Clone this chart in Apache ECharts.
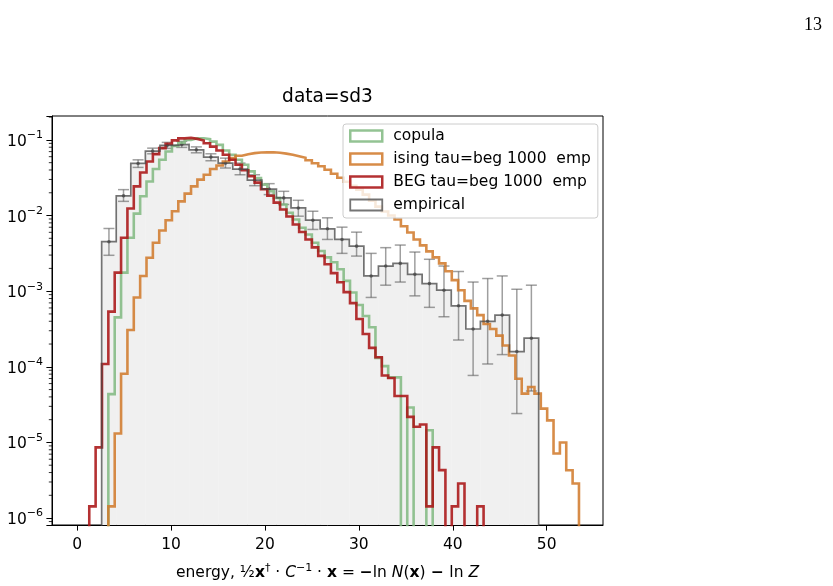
<!DOCTYPE html>
<html>
<head>
<meta charset="utf-8">
<script src="https://cdn.jsdelivr.net/npm/echarts@6/dist/echarts.min.js"></script>
<style>
  html, body { margin: 0; padding: 0; background: #fff; }
  #chart { width: 833px; height: 586px; }
</style>
</head>
<body>
<div id="chart"></div>
<script>
// axis ranges (as in the reference)
const X_MIN = -2.68, X_MAX = 56.0;
const Y_MIN = 8.1e-7, Y_MAX = 0.207;
const FLOOR = 1e-12;   // empty bins: drawn below the axis and clipped

// model histograms share one regular binning
const modelBinStart = 1.289;
const modelBinWidth = 0.6773;
// empirical histogram: 30 bins
const empBinStart = 2.609;
const empBinWidth = 1.5513;

// BEG tau=beg 1000 emp, bins 0..61
const begFirstBin = 0;
const begValues = [
  1.43e-6, 8.6e-6, 1.09e-4, 5.37e-4, 1.76e-3, 5.09e-3, 1.24e-2, 2.43e-2, 3.71e-2, 5.18e-2,
  6.48e-2, 7.78e-2, 8.86e-2, 9.85e-2, 0.1047, 0.1062, 0.1031, 0.0979, 0.0905, 0.0816,
  0.0723, 0.0635, 0.0546, 0.0469, 0.0397, 0.0331, 0.0272, 0.0223, 0.0183, 0.0148,
  0.0120, 9.70e-3, 7.62e-3, 6.07e-3, 4.83e-3, 3.79e-3, 2.93e-3, 2.27e-3, 1.73e-3, 1.31e-3,
  9.70e-4, 6.95e-4, 4.28e-4, 2.72e-4, 1.78e-4, 1.34e-4, 7.69e-5, 7.10e-5, 4.11e-5, 4.11e-5,
  2.18e-5, 1.61e-5, 1.73e-5, 1.43e-6, 8.6e-6, 4.3e-6, 0, 1.43e-6, 2.86e-6, 0,
  0, 1.43e-6
];

// copula, bins 3..53
const copulaFirstBin = 3;
const copulaValues = [
  4.35e-5, 4.51e-4, 1.76e-3, 5.09e-3, 1.06e-2, 1.80e-2, 2.82e-2, 4.12e-2, 5.46e-2, 7.02e-2,
  8.34e-2, 9.21e-2, 0.100, 0.1053, 0.1053, 0.1021, 0.0950, 0.0859, 0.0723, 0.0635,
  0.0546, 0.0469, 0.0383, 0.0313, 0.0256, 0.0209, 0.0171, 0.0140, 0.0109, 8.86e-3,
  6.89e-3, 5.62e-3, 4.37e-3, 3.39e-3, 2.80e-3, 2.41e-3, 1.95e-3, 1.37e-3, 9.61e-4, 6.55e-4,
  4.69e-4, 3.33e-4, 1.31e-4, 1.02e-4, 7.25e-5, 7.25e-5, 0, 2.9e-5, 0, 0,
  1.45e-5
];

// ising tau=beg 1000 emp, bins 3..76
const isingFirstBin = 3;
const isingValues = [
  1.43e-6, 1.31e-5, 8.09e-5, 3.07e-4, 8.26e-4, 1.59e-3, 2.77e-3, 4.37e-3, 6.35e-3, 8.67e-3,
  1.14e-2, 1.54e-2, 1.95e-2, 2.43e-2, 2.98e-2, 3.46e-2, 4.12e-2, 4.59e-2, 5.18e-2, 5.74e-2,
  6.16e-2, 6.48e-2, 6.68e-2, 6.81e-2, 6.85e-2, 6.85e-2, 6.75e-2, 6.58e-2, 6.35e-2, 6.07e-2,
  5.80e-2, 5.37e-2, 4.91e-2, 4.48e-2, 4.03e-2, 3.57e-2, 3.16e-2, 2.80e-2, 2.48e-2, 2.20e-2,
  1.89e-2, 1.57e-2, 1.31e-2, 1.13e-2, 1.00e-2, 8.86e-3, 7.23e-3, 5.97e-3, 4.83e-3, 4.03e-3,
  3.36e-3, 2.80e-3, 2.33e-3, 1.83e-3, 1.40e-3, 1.03e-3, 7.45e-4, 5.92e-4, 4.83e-4, 3.68e-4,
  3.16e-4, 2.58e-4, 1.91e-4, 1.41e-4, 6.95e-5, 4.42e-5, 5.41e-5, 4.42e-5, 2.80e-5, 1.96e-5,
  7.15e-6, 1.0e-5, 4.29e-6, 2.86e-6
];

// empirical density and its error bar ends
const empValues = [
  4.51e-3, 1.82e-2, 4.88e-2, 7.10e-2, 8.47e-2, 8.73e-2, 7.39e-2, 5.92e-2, 4.93e-2, 4.11e-2,
  2.93e-2, 2.24e-2, 1.71e-2, 1.26e-2, 8.67e-3, 6.68e-3, 4.83e-3, 3.94e-3, 1.59e-3, 2.15e-3,
  2.33e-3, 1.67e-3, 1.26e-3, 1.03e-3, 6.41e-4, 3.16e-4, 3.99e-4, 4.83e-4, 1.59e-4, 2.39e-4
];
const empLow = [
  2.98e-3, 1.54e-2, 4.33e-2, 6.55e-2, 7.73e-2, 7.96e-2, 6.75e-2, 5.30e-2, 4.25e-2, 3.46e-2,
  2.48e-2, 1.89e-2, 1.40e-2, 9.80e-3, 6.55e-3, 4.83e-3, 3.16e-3, 2.91e-3, 8.26e-4, 1.20e-3,
  1.32e-3, 8.67e-4, 6.11e-4, 4.59e-4, 2.26e-4, 7.69e-5, 1.09e-4, 1.45e-4, 2.41e-5, 4.79e-5
];
const empHigh = [
  6.74e-3, 2.20e-2, 5.45e-2, 7.78e-2, 9.27e-2, 9.56e-2, 8.09e-2, 6.55e-2, 5.74e-2, 4.93e-2,
  3.46e-2, 2.64e-2, 2.09e-2, 1.59e-2, 1.14e-2, 9.33e-3, 7.02e-3, 6.03e-3, 3.16e-3, 3.76e-3,
  4.07e-3, 3.29e-3, 2.64e-3, 2.15e-3, 1.82e-3, 1.32e-3, 1.47e-3, 1.59e-3, 1.06e-3, 1.20e-3
];

const C_GREEN = 'rgba(128,185,128,0.85)';
const C_ORANGE = 'rgba(208,120,40,0.85)';
const C_RED = 'rgba(170,20,22,0.88)';
const C_GREY = 'rgba(70,70,70,0.75)';
const FONT = 'DejaVu Sans';

function modelEdge(k) { return modelBinStart + k * modelBinWidth; }
function empEdge(k) { return empBinStart + k * empBinWidth; }

// outline of a step histogram, closed down to the axis at both ends
function stepPoints(edge, first, vals) {
  const pts = [[edge(first), FLOOR]];
  vals.forEach(function (v, i) {
    pts.push([edge(first + i), v > 0 ? v : FLOOR]);
  });
  pts.push([edge(first + vals.length), FLOOR]);
  return pts;
}

function stepSeries(name, color, width, pts) {
  return {
    name: name, type: 'line', step: 'end', data: pts,
    showSymbol: false, symbol: 'none', clip: true,
    lineStyle: { color: color, width: width, join: 'miter', cap: 'butt' },
    itemStyle: { color: color },
    emphasis: { disabled: true }
  };
}

// minor ticks of the log axis: 2..9 x 10^n
const minorTicks = [];
for (let n = -7; n <= -1; n++) {
  for (let m = 2; m <= 9; m++) {
    const v = m * Math.pow(10, n);
    if (v > Y_MIN && v < Y_MAX) minorTicks.push([X_MIN, v]);
  }
}

const fillData = empValues.map(function (v, j) { return [empEdge(j), empEdge(j + 1), v]; });
const errData = empValues.map(function (v, j) {
  return [empEdge(j) + empBinWidth / 2, empLow[j], empHigh[j], v];
});

const chart = echarts.init(document.getElementById('chart'), null, { renderer: 'canvas' });

chart.setOption({
  animation: false,
  backgroundColor: '#fff',
  grid: {
    left: 52, top: 116, width: 551, height: 411,
    show: true, borderColor: '#000', borderWidth: 1, backgroundColor: 'transparent'
  },
  graphic: [
    {
      type: 'text', x: 327.5, y: 97, silent: true,
      style: { text: 'data=sd3', font: '18.6px "DejaVu Sans"', fill: '#000', textAlign: 'center', textVerticalAlign: 'middle' }
    },
    {
      type: 'text', x: 822, y: 25, silent: true,
      style: { text: '13', font: '18px "Liberation Serif"', fill: '#000', textAlign: 'right', textVerticalAlign: 'middle' }
    }
  ],
  legend: {
    orient: 'vertical', left: 343, top: 124,
    itemWidth: 32, itemHeight: 11, itemGap: 7,
    padding: [4, 7, 5, 6],
    backgroundColor: 'rgba(255,255,255,0.8)',
    borderColor: '#cccccc', borderWidth: 1, borderRadius: 3,
    selectedMode: false,
    textStyle: { fontFamily: FONT, fontSize: 15.5, color: '#000', lineHeight: 16, padding: [0, 0, 0, 6] },
    data: [
      { name: 'copula', icon: 'rect', itemStyle: { color: 'rgba(255,255,255,0)', borderColor: C_GREEN, borderWidth: 2.5 } },
      { name: 'ising tau=beg 1000  emp', icon: 'rect', itemStyle: { color: 'rgba(255,255,255,0)', borderColor: C_ORANGE, borderWidth: 2.5 } },
      { name: 'BEG tau=beg 1000  emp', icon: 'rect', itemStyle: { color: 'rgba(255,255,255,0)', borderColor: C_RED, borderWidth: 2.5 } },
      { name: 'empirical', icon: 'rect', itemStyle: { color: 'rgba(255,255,255,0)', borderColor: C_GREY, borderWidth: 1.8 } }
    ]
  },
  xAxis: {
    type: 'value', min: X_MIN, max: X_MAX,
    axisLine: { onZero: false, lineStyle: { color: '#000', width: 1 } },
    axisTick: { length: 5.6, lineStyle: { color: '#000', width: 1 } },
    axisLabel: {
      color: '#000', fontFamily: FONT, fontSize: 15.5, margin: 12,
      showMinLabel: false, showMaxLabel: false,
      formatter: function (v) { return Math.abs(v / 10 - Math.round(v / 10)) < 1e-9 ? String(Math.round(v)) : ''; }
    },
    splitLine: { show: false },
    name: '{n|energy, ½}{b|x}{sup|†}{n| · }{i|C}{sup|−1}{n| · }{b|x}{n| = }{b|−}{n|ln }{i|N}{n|(}{b|x}{n|)}{b| − }{n|ln }{i|Z}',
    nameLocation: 'middle', nameGap: 38,
    nameTextStyle: {
      rich: {
        n: { fontFamily: FONT, fontSize: 15.5, color: '#000', lineHeight: 20 },
        b: { fontFamily: FONT, fontSize: 15.5, fontWeight: 'bold', color: '#000', lineHeight: 20 },
        i: { fontFamily: FONT, fontSize: 15.5, fontStyle: 'italic', color: '#000', lineHeight: 20 },
        sup: { fontFamily: FONT, fontSize: 11, color: '#000', verticalAlign: 'top', lineHeight: 12 }
      }
    }
  },
  yAxis: {
    type: 'log', logBase: 10, min: Y_MIN, max: Y_MAX,
    axisLine: { onZero: false, lineStyle: { color: '#000', width: 1 } },
    axisTick: { length: 5.6, lineStyle: { color: '#000', width: 1 } },
    axisLabel: {
      margin: 9,
      formatter: function (v) {
        const p = Math.log10(v), r = Math.round(p);
        if (Math.abs(p - r) > 1e-6) return '';
        return '{b|10}{s|−' + (-r) + '}';
      },
      rich: {
        b: { fontFamily: FONT, fontSize: 15.5, color: '#000', lineHeight: 20, padding: [4, 0, 0, 0] },
        s: { fontFamily: FONT, fontSize: 11, color: '#000', verticalAlign: 'top', lineHeight: 12 }
      }
    },
    splitLine: { show: false }
  },
  series: [
    {
      name: 'empirical fill', type: 'custom', clip: true, silent: true,
      data: fillData, encode: { x: [0, 1], y: 2 },
      renderItem: function (params, api) {
        const a = api.coord([api.value(0), api.value(2)]);
        const b = api.coord([api.value(1), api.value(2)]);
        const bottom = params.coordSys.y + params.coordSys.height;
        return { type: 'rect', shape: { x: a[0], y: a[1], width: b[0] - a[0] + 0.3, height: bottom - a[1] }, style: { fill: '#f0f0f0' } };
      }
    },
    stepSeries('copula', C_GREEN, 2.6, stepPoints(modelEdge, copulaFirstBin, copulaValues)),
    stepSeries('ising tau=beg 1000  emp', C_ORANGE, 2.6, stepPoints(modelEdge, isingFirstBin, isingValues)),
    stepSeries('BEG tau=beg 1000  emp', C_RED, 2.6, stepPoints(modelEdge, begFirstBin, begValues)),
    stepSeries('empirical', C_GREY, 1.7, stepPoints(empEdge, 0, empValues)),
    {
      name: 'empirical errors', type: 'custom', clip: true, silent: true,
      data: errData, encode: { x: 0, y: [1, 2, 3] },
      renderItem: function (params, api) {
        const lo = api.coord([api.value(0), api.value(1)]);
        const hi = api.coord([api.value(0), api.value(2)]);
        const mid = api.coord([api.value(0), api.value(3)]);
        const st = { stroke: 'rgba(95,95,95,0.6)', lineWidth: 1.5 };
        return {
          type: 'group',
          children: [
            { type: 'line', shape: { x1: lo[0], y1: lo[1], x2: hi[0], y2: hi[1] }, style: st },
            { type: 'line', shape: { x1: lo[0] - 5.5, y1: lo[1], x2: lo[0] + 5.5, y2: lo[1] }, style: st },
            { type: 'line', shape: { x1: hi[0] - 5.5, y1: hi[1], x2: hi[0] + 5.5, y2: hi[1] }, style: st },
            { type: 'circle', shape: { cx: mid[0], cy: mid[1], r: 1.8 }, style: { fill: 'rgba(80,80,80,0.8)' } }
          ]
        };
      }
    },
    {
      name: 'minor ticks', type: 'custom', clip: false, silent: true,
      data: minorTicks, encode: { x: 0, y: 1 },
      renderItem: function (params, api) {
        const y = api.coord([X_MIN, api.value(1)])[1];
        const x = params.coordSys.x;
        return { type: 'line', shape: { x1: x - 3.2, y1: y, x2: x, y2: y }, style: { stroke: '#000', lineWidth: 0.8 } };
      }
    }
  ]
});
</script>
</body>
</html>
